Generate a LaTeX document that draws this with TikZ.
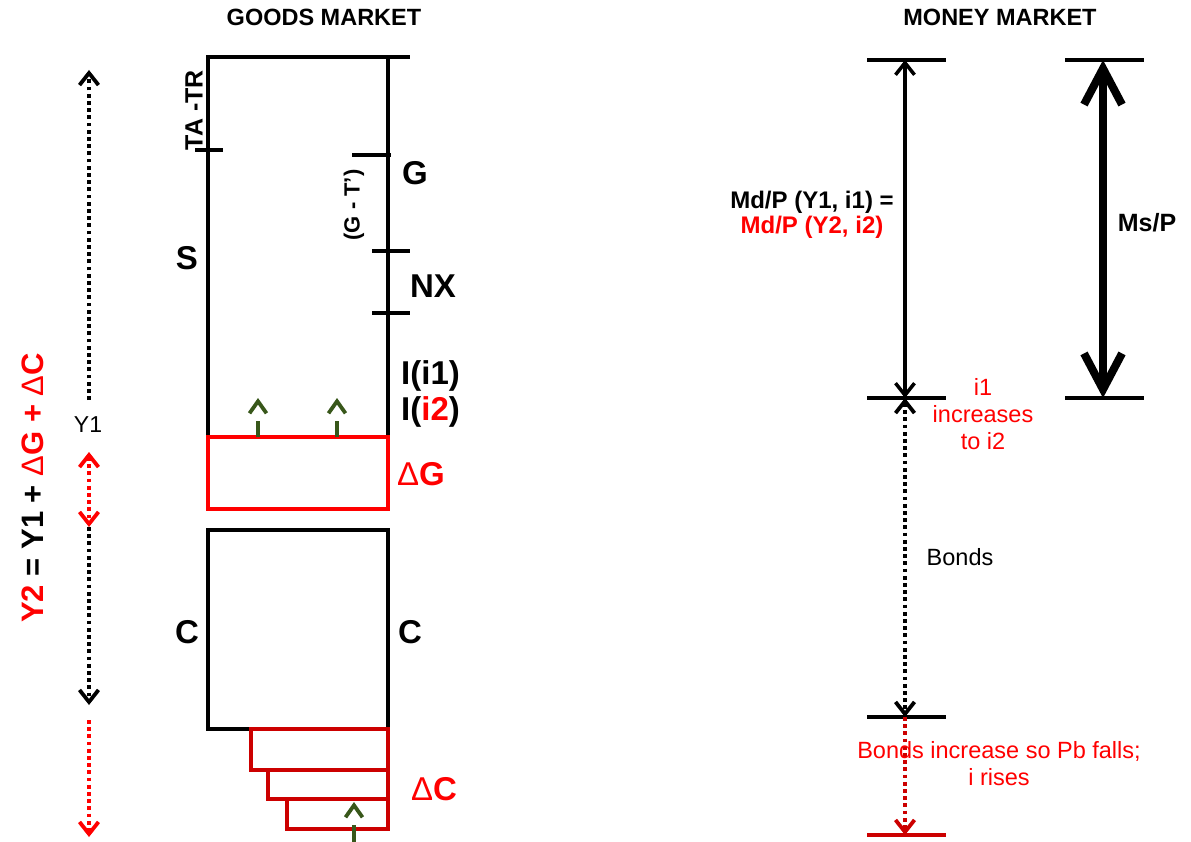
\documentclass[tikz,border=0pt]{standalone}
\usepackage{fontspec}
\setmainfont{Liberation Sans}
\usetikzlibrary{arrows.meta}
\definecolor{myred}{HTML}{FF0000}
\definecolor{dred}{HTML}{CC0000}
\definecolor{dgreen}{HTML}{38571A}
\tikzset{
  ln/.style={line width=3.5pt},
  dotln/.style={line width=3.8pt, dash pattern=on 3.8pt off 3.4pt},
  chev/.tip={Straight Barb[length=12pt,width=19pt]},
  bigchev/.tip={Straight Barb[length=36pt,width=38pt]},
  garrow/.style={line width=3.8pt, dgreen, -{Straight Barb[length=12pt,width=17pt]}},
  title/.style={font=\fontsize{23.5}{26}\selectfont\bfseries, inner sep=0pt},
  big/.style={font=\fontsize{33}{38}\selectfont\bfseries, inner sep=0pt},
  mid/.style={font=\fontsize{24}{25}\selectfont\bfseries, inner sep=0pt},
  reg/.style={font=\fontsize{23.5}{27}\selectfont, inner sep=0pt},
}
\begin{document}
\begin{tikzpicture}[x=1pt,y=-1pt]
\useasboundingbox (0,0) rectangle (1191,842);

% titles
\node[title] (tg) at (324,17) {GOODS MARKET};
\node[title] (tm) at (1000,17) {MONEY MARKET};

% left column
\node[font=\fontsize{31}{34}\selectfont\bfseries, rotate=90, inner sep=0pt] (y2) at (33,488)
  {\textcolor{myred}{Y2} = Y1 + \textcolor{myred}{{\mdseries Δ}G + {\mdseries Δ}C}};
\node[font=\fontsize{23}{26}\selectfont, inner sep=0pt] (y1) at (88,425) {Y1};
\coordinate (ytop) at (89,70);
\coordinate (ymid) at (89,400);
\coordinate (gtop) at (89,452);
\coordinate (gbot) at (89,527);
\coordinate (ybot) at (89,705);
\coordinate (ctop) at (89,720);
\coordinate (cbot) at (89,837);
\draw[dotln, -chev] (ymid) -- (ytop);
\draw[dotln, -chev] (gbot) -- (ybot);
\draw[dotln, myred, chev-chev] (gtop) -- (gbot);
\draw[dotln, myred, -chev] (ctop) -- (cbot);

% goods market frame
\draw[ln] (208,437) -- (208,57) -- (410,57);
\draw[ln] (388,57) -- (388,437);
\draw[ln] (195,150) -- (223,150);
\draw[ln] (352,155) -- (391,155);
\draw[ln] (372,251) -- (410,251);
\draw[ln] (372,313) -- (410,313);
\node[font=\fontsize{25}{28}\selectfont\bfseries, rotate=90, inner sep=0pt] (tatr) at (194,110) {TA -TR};
\node[font=\fontsize{22}{25}\selectfont\bfseries, rotate=90, inner sep=0pt] (gt) at (354,205) {(G - T')};
\node[big] (gl) at (415,173) {G};
\node[big] (nx) at (433,286) {NX};
\node[big] (s) at (187,258) {S};
\node[big, anchor=west] (i1) at (401,376) {I(i1)};
\node[big, anchor=west] (i2) at (401,412) {I(\textcolor{myred}{i2})};

% delta G box
\draw[ln, myred] (208,437) rectangle (388,509);
\node[big, myred] (dg) at (421,474) {{\mdseries Δ}G};
\coordinate (ga1) at (258,437); \coordinate (ga1t) at (258,398);
\coordinate (ga2) at (337,437); \coordinate (ga2t) at (337,398);
\draw[garrow, dash pattern=on 16pt off 40pt] (ga1) -- (ga1t);
\draw[garrow, dash pattern=on 16pt off 40pt] (ga2) -- (ga2t);

% C box
\draw[ln] (250,729) -- (208,729) -- (208,530) -- (388,530) -- (388,729);
\node[big] (cl) at (187,632) {C};
\node[big] (cr) at (410,632) {C};

% delta C steps
\draw[ln, dred] (251,729) rectangle (388,770);
\draw[ln, dred] (268,770) rectangle (388,799);
\draw[ln, dred] (287,799) rectangle (388,829);
\node[big, myred] (dc) at (434,789) {{\mdseries Δ}C};
\coordinate (ga3) at (354,842); \coordinate (ga3t) at (354,802);
\draw[garrow, dash pattern=on 17pt off 40pt] (ga3) -- (ga3t);

% money market
\draw[ln] (867,60) -- (946,60);
\draw[ln] (867,398) -- (946,398);
\draw[ln] (867,717) -- (946,717);
\draw[ln, dred] (867,835) -- (946,835);
\coordinate (m1) at (905,60);
\coordinate (m2) at (905,398);
\coordinate (m3) at (905,717);
\coordinate (m4) at (905,835);
\draw[ln, chev-chev] (m1) -- (m2);
\draw[dotln, chev-chev] (m2) -- (m3);
\draw[dotln, dred, -chev] (m3) -- (m4);

\node[mid, align=center] (md) at (812,215) {Md/P (Y1, i1) =\\\textcolor{myred}{Md/P (Y2, i2)}};
\node[reg, myred, align=center] (inc) at (983,414) {i1\\increases\\to i2};
\node[reg] (bonds) at (960,557) {Bonds};
\node[reg, myred, align=center] (bif) at (999,764) {Bonds increase so Pb falls;\\i rises};

% Ms/P
\draw[ln] (1065,60) -- (1144,60);
\draw[ln] (1065,398) -- (1144,398);
\coordinate (s1) at (1103,60);
\coordinate (s2) at (1103,398);
\draw[line width=8pt, bigchev-bigchev] (s1) -- (s2);
\node[font=\fontsize{25}{28}\selectfont\bfseries, inner sep=0pt] (msp) at (1147,223) {Ms/P};
\end{tikzpicture}
\end{document}
